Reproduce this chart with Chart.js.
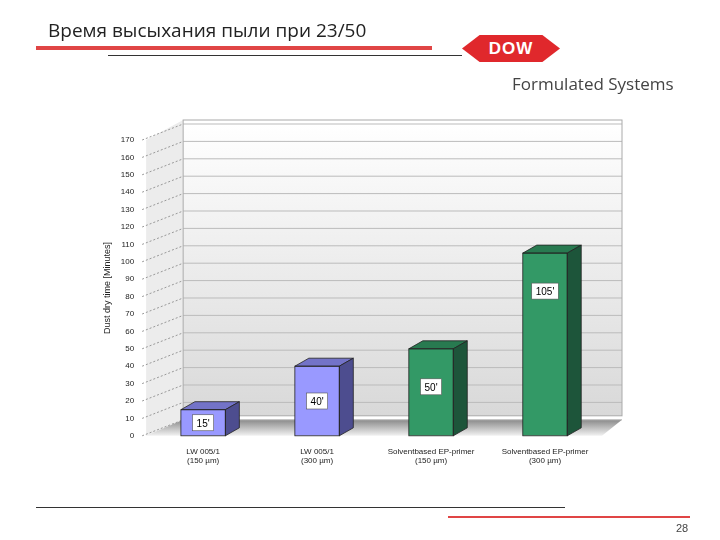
<!DOCTYPE html>
<html><head><meta charset="utf-8">
<script src="https://cdn.jsdelivr.net/npm/chart.js@4"></script>
<style>
body{margin:0;background:#fff;width:720px;height:540px;position:relative;overflow:hidden;font-family:"Liberation Sans",Arial,sans-serif}
#c{position:absolute;left:0;top:0}
.t{position:absolute;left:48px;top:17px;font:19px "Open Sans",sans-serif;color:#222}
.ln{position:absolute}
.logo{position:absolute;left:462px;top:35px;width:98px;height:27px;background:#e0282c;clip-path:polygon(0 50%,18% 0,82% 0,100% 50%,82% 100%,18% 100%);color:#fff;font:bold 17px "Liberation Sans",Arial;text-align:center;line-height:27px;letter-spacing:1px}
.fs{position:absolute;left:512px;top:72px;font:17px "Open Sans",sans-serif;color:#444}
.pg{position:absolute;left:676px;top:522px;font:11px "Liberation Sans",Arial;color:#444}
</style></head><body>
<canvas id="c" width="720" height="540"></canvas>
<div class="t">Время высыхания пыли при 23/50</div>
<div class="ln" style="left:36px;top:46px;width:396px;height:4px;background:#e04545"></div>
<div class="ln" style="left:108px;top:55px;width:354px;height:1px;background:#333"></div>
<div class="logo">DOW</div>
<div class="fs">Formulated Systems</div>
<div class="ln" style="left:36px;top:507px;width:529px;height:1px;background:#333"></div>
<div class="ln" style="left:448px;top:516px;width:242px;height:2px;background:#e04545"></div>
<div class="pg">28</div>
<script>
// данные
var categorias = [["LW 005/1", "(150 µm)"], ["LW 005/1", "(300 µm)"], ["Solventbased EP-primer", "(150 µm)"], ["Solventbased EP-primer", "(300 µm)"]];
var valores = [15, 40, 50, 105];
var etiquetas = ["15'", "40'", "50'", "105'"];
var coloresFrente = ["#9999ff", "#9999ff", "#339966", "#339966"];
var coloresLado = ["#4d4d8f", "#4d4d8f", "#1d553a", "#1d553a"];
var coloresTecho = ["#7373c8", "#7373c8", "#287a50", "#287a50"];

var WX = 37, WY = -16, BX = 14, BY = -8;

var fondo3d = {
  id: "fondo3d",
  beforeDatasetsDraw: function(chart){
    var ctx = chart.ctx, a = chart.chartArea, y = chart.scales.y;
    ctx.save();
    // pared trasera
    var g = ctx.createLinearGradient(0, a.top + WY, 0, a.bottom + WY);
    g.addColorStop(0, "#ffffff"); g.addColorStop(1, "#d8d8d8");
    ctx.fillStyle = g;
    ctx.fillRect(a.left + WX, a.top + WY - 4, a.right + 20 - a.left - WX, a.bottom - a.top);
    // pared izquierda
    ctx.fillStyle = "#ececec";
    ctx.beginPath();
    ctx.moveTo(a.left, a.top); ctx.lineTo(a.left + WX, a.top + WY - 4);
    ctx.lineTo(a.left + WX, a.bottom + WY); ctx.lineTo(a.left, a.bottom); ctx.fill();
    // piso
    var f = ctx.createLinearGradient(0, a.bottom + WY, 0, a.bottom);
    f.addColorStop(0, "#8a8a8a"); f.addColorStop(1, "#f2f2f2");
    ctx.fillStyle = f;
    ctx.beginPath();
    ctx.moveTo(a.left, a.bottom); ctx.lineTo(a.left + WX, a.bottom + WY);
    ctx.lineTo(a.right + 20, a.bottom + WY); ctx.lineTo(a.right, a.bottom); ctx.fill();
    // lineas de rejilla
    y.ticks.forEach(function(t){
      var py = y.getPixelForValue(t.value);
      ctx.strokeStyle = "#bbbbbb"; ctx.lineWidth = 1; ctx.setLineDash([]);
      ctx.beginPath(); ctx.moveTo(a.left + WX, py + WY); ctx.lineTo(a.right + 20, py + WY); ctx.stroke();
      ctx.setLineDash([2, 2]); ctx.strokeStyle = "#999";
      ctx.beginPath(); ctx.moveTo(a.left - 4, py); ctx.lineTo(a.left + WX, py + WY); ctx.stroke();
    });
    ctx.setLineDash([]);
    ctx.strokeStyle = "#aaa";
    ctx.strokeRect(a.left + WX, a.top + WY - 4, a.right + 20 - a.left - WX, a.bottom - a.top);
    ctx.restore();
  },
  afterDatasetsDraw: function(chart){
    var ctx = chart.ctx;
    chart.getDatasetMeta(0).data.forEach(function(b, i){
      var l = b.x - b.width / 2, r = b.x + b.width / 2, t = b.y, bo = b.base;
      ctx.save();
      ctx.strokeStyle = "#222"; ctx.lineWidth = 0.8;
      ctx.fillStyle = coloresTecho[i];
      ctx.beginPath(); ctx.moveTo(l, t); ctx.lineTo(l + BX, t + BY); ctx.lineTo(r + BX, t + BY); ctx.lineTo(r, t); ctx.closePath(); ctx.fill(); ctx.stroke();
      ctx.fillStyle = coloresLado[i];
      ctx.beginPath(); ctx.moveTo(r, t); ctx.lineTo(r + BX, t + BY); ctx.lineTo(r + BX, bo + BY); ctx.lineTo(r, bo); ctx.closePath(); ctx.fill(); ctx.stroke();
      ctx.strokeRect(l, t, r - l, bo - t);
      // etiqueta
      var ly = Math.min((t + bo) / 2, t + 38);
      ctx.font = "10px 'Liberation Sans', Arial";
      var w = ctx.measureText(etiquetas[i]).width + 8;
      ctx.fillStyle = "#fff"; ctx.fillRect(b.x - w / 2, ly - 8, w, 16);
      ctx.strokeStyle = "#555"; ctx.lineWidth = 0.6; ctx.strokeRect(b.x - w / 2, ly - 8, w, 16);
      ctx.fillStyle = "#000"; ctx.textAlign = "center"; ctx.textBaseline = "middle";
      ctx.fillText(etiquetas[i], b.x, ly + 1);
      ctx.restore();
    });
  }
};

new Chart(document.getElementById("c"), {
  type: "bar",
  data: {
    labels: categorias,
    datasets: [{ data: valores, backgroundColor: coloresFrente, barPercentage: 0.39, categoryPercentage: 1 }]
  },
  options: {
    responsive: false, animation: false,
    layout: { padding: { left: 98, right: 118, top: 140, bottom: 71 } },
    plugins: { legend: { display: false }, tooltip: { enabled: false } },
    scales: {
      x: { grid: { display: false }, border: { display: false },
           ticks: { color: "#222", font: { size: 8, family: "Liberation Sans" }, maxRotation: 0 } },
      y: { min: 0, max: 170, grid: { display: false }, border: { display: false },
           ticks: { stepSize: 10, color: "#222", font: { size: 8, family: "Liberation Sans" }, padding: 4 },
           title: { display: true, text: "Dust dry time [Minutes]", color: "#222", font: { size: 9, family: "Liberation Sans" } } }
    }
  },
  plugins: [fondo3d]
});
</script>
</body></html>
